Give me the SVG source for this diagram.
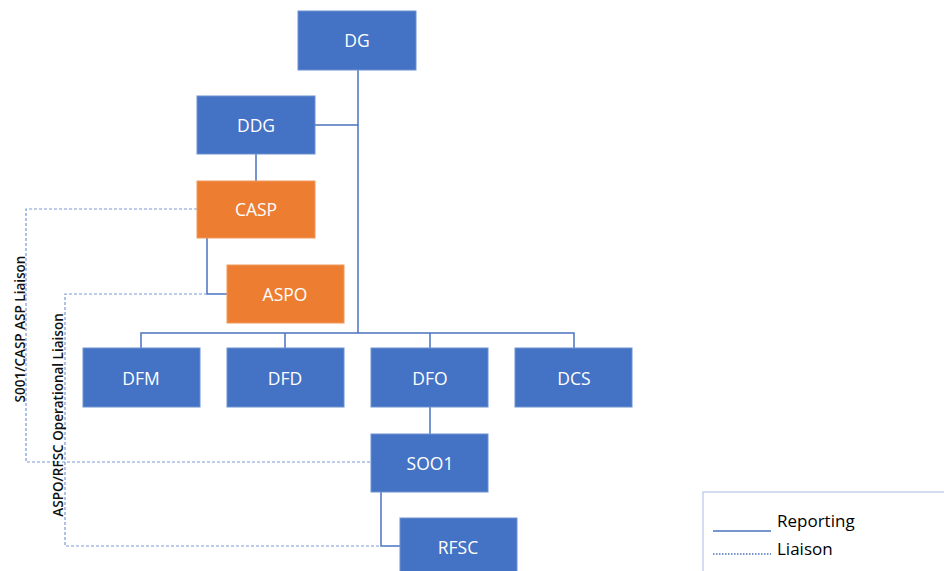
<svg xmlns="http://www.w3.org/2000/svg" width="944" height="571" viewBox="0 0 944 571">
<style>
.b{fill:#4472C4;stroke:#6f91d0;stroke-width:1}
.o{fill:#ED7D31;stroke:#f09a5e;stroke-width:1}
.t{font-family:"Open Sans","Liberation Sans",sans-serif;font-size:17.5px;fill:#ffffff;text-anchor:middle;dominant-baseline:central}
.r{fill:none;stroke:#4a73c0;stroke-width:1.5}
.l{fill:none;stroke:#7a9ad6;stroke-width:1.2;stroke-dasharray:3,2}
.v{font-family:"Open Sans","Liberation Sans",sans-serif;font-size:13.5px;font-weight:600;fill:#111;text-anchor:middle}
.g{font-family:"Open Sans","Liberation Sans",sans-serif;font-size:17px;fill:#000}
</style>
<rect width="944" height="571" fill="#fff"/>
<g id="connectors">
<path class="r" d="M358 70V333M315 125H358M256 154V181M207 238V294H227M141 348V333H574V348M285 333V348M430 333V348M430 407V434M381 492V546H400"/>
<path class="l" d="M197 209H26V462H371M227 294H65V546H400"/>
</g>
<g id="DG"><rect class="b" x="298" y="11" width="118" height="59"/><text class="t" x="357" y="40">DG</text></g>
<g id="DDG"><rect class="b" x="197" y="96" width="118" height="58"/><text class="t" x="256" y="125">DDG</text></g>
<g id="CASP"><rect class="o" x="197" y="181" width="118" height="57"/><text class="t" x="256" y="209">CASP</text></g>
<g id="ASPO"><rect class="o" x="227" y="265" width="117" height="58"/><text class="t" x="285" y="294">ASPO</text></g>
<g id="DFM"><rect class="b" x="83" y="348" width="117" height="59"/><text class="t" x="141" y="378">DFM</text></g>
<g id="DFD"><rect class="b" x="227" y="348" width="117" height="59"/><text class="t" x="285" y="378">DFD</text></g>
<g id="DFO"><rect class="b" x="371" y="348" width="117" height="59"/><text class="t" x="430" y="378">DFO</text></g>
<g id="DCS"><rect class="b" x="515" y="348" width="117" height="59"/><text class="t" x="574" y="378">DCS</text></g>
<g id="SOO1"><rect class="b" x="371" y="434" width="117" height="58"/><text class="t" x="430" y="463">SOO1</text></g>
<g id="RFSC"><rect class="b" x="400" y="518" width="117" height="60"/><text class="t" x="458" y="547">RFSC</text></g>
<g id="labels">
<text class="v" transform="translate(25,329) rotate(-90)">S001/CASP ASP Liaison</text>
<text class="v" transform="translate(63,415) rotate(-90)">ASPO/RFSC Operational Liaison</text>
</g>
<g id="legend">
<rect x="703" y="492" width="250" height="90" fill="none" stroke="#a9bde3" stroke-width="1"/>
<line x1="713" y1="531" x2="771" y2="531" stroke="#4a73c0" stroke-width="1.5"/>
<text class="g" x="777" y="527">Reporting</text>
<line x1="713" y1="554" x2="771" y2="554" stroke="#4a73c0" stroke-width="1.3" stroke-dasharray="1.5,1.5"/>
<text class="g" x="777" y="555">Liaison</text>
</g>
</svg>
